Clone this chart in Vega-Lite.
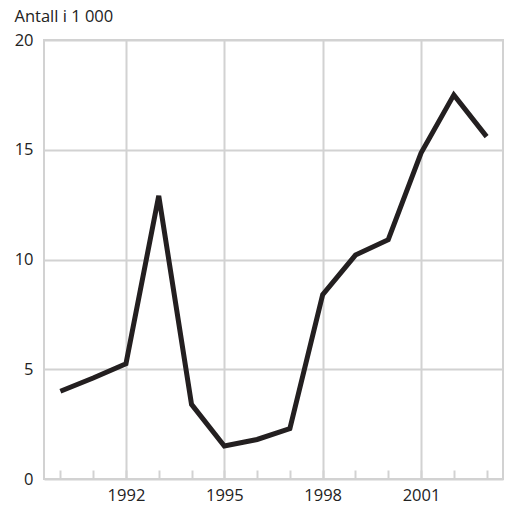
{
  "$schema": "https://vega.github.io/schema/vega-lite/v6.json",
  "width": 459,
  "height": 439,
  "autosize": "none",
  "padding": {"left": 44, "top": 40, "right": 5, "bottom": 26},
  "background": "white",
  "config": {
    "view": {"stroke": "#d2d2d2", "strokeWidth": 2},
    "font": "Open Sans",
    "axis": {"labelFont": "Open Sans", "titleFont": "Open Sans", "labelColor": "#222", "titleColor": "#222"}
  },
  "data": {"values": [
    {"year": 1990, "value": 4.0},
    {"year": 1991, "value": 4.6},
    {"year": 1992, "value": 5.25},
    {"year": 1993, "value": 12.9},
    {"year": 1994, "value": 3.4},
    {"year": 1995, "value": 1.5},
    {"year": 1996, "value": 1.8},
    {"year": 1997, "value": 2.3},
    {"year": 1998, "value": 8.4},
    {"year": 1999, "value": 10.2},
    {"year": 2000, "value": 10.9},
    {"year": 2001, "value": 14.85},
    {"year": 2002, "value": 17.5},
    {"year": 2003, "value": 15.6}
  ]},
  "mark": {"type": "line", "color": "#231f20", "strokeWidth": 5, "strokeJoin": "miter", "strokeCap": "butt"},
  "encoding": {
    "x": {
      "field": "year", "type": "quantitative",
      "scale": {"domain": [1989.5, 2003.5], "nice": false, "zero": false},
      "axis": {
        "title": null,
        "values": [1990,1991,1992,1993,1994,1995,1996,1997,1998,1999,2000,2001,2002,2003],
        "labelExpr": "(datum.value - 1992) % 3 == 0 ? datum.value : ''",
        "labelFontSize": 16.5,
        "labelPadding": 17,
        "labelFlush": false,
        "domain": false,
        "ticks": true,
        "tickSize": -9,
        "tickColor": "#d2d2d2",
        "tickWidth": 2,
        "grid": true,
        "gridColor": {"condition": {"test": "(datum.value - 1992) % 3 == 0", "value": "#d2d2d2"}, "value": "rgba(0,0,0,0)"},
        "gridWidth": 2
      }
    },
    "y": {
      "field": "value", "type": "quantitative",
      "scale": {"domain": [0, 20], "nice": false},
      "axis": {
        "values": [0, 5, 10, 15, 20],
        "title": "Antall i 1 000",
        "titleAngle": 0,
        "titleAlign": "left",
        "titleBaseline": "alphabetic",
        "titleX": -30,
        "titleY": -19,
        "titleFontSize": 16.5,
        "titleFontWeight": "normal",
        "labelFontSize": 16.5,
        "labelPadding": 11,
        "domain": false,
        "ticks": false,
        "grid": true,
        "gridColor": "#d2d2d2",
        "gridWidth": 2
      }
    }
  }
}
